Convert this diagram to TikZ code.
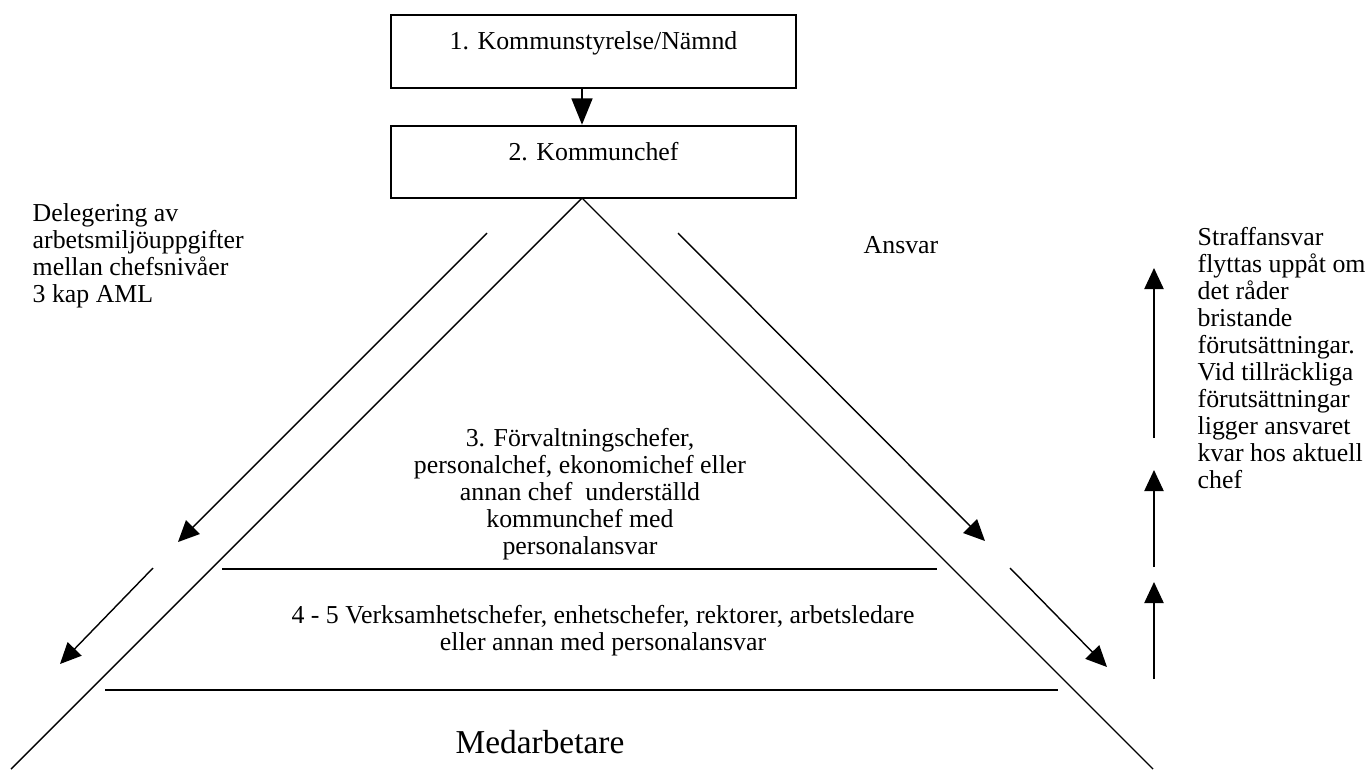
\documentclass[tikz,border=0pt]{standalone}
\usepackage{fontspec}
\setmainfont{Liberation Serif}
\usetikzlibrary{arrows.meta}

\begin{document}
\begin{tikzpicture}[x=0.02cm,y=-0.02cm,>={Triangle[length=12pt,width=11pt]},line width=0.8pt,
  font=\fontsize{14.7pt}{15.4pt}\selectfont,
  box/.style={draw,line width=1.2pt,minimum width=8.1cm,minimum height=1.45cm,inner sep=0pt,
    text height=10.5pt,text depth=12.5pt},
  txt/.style={inner sep=0pt,align=center}]
\useasboundingbox (0,0) rectangle (1370,769);
\coordinate (top) at (582,198);
\coordinate (bl) at (11,769);
\coordinate (br) at (1153,769);
\node[box] (kst) at (593.5,51.5) {1. Kommunstyrelse/Nämnd};
\node[box] (kc) at (593.5,162) {2. Kommunchef};
\draw[->,>={Triangle[length=15pt,width=12pt]}] (kst.south -| top) -- (kc.north -| top);
\draw (bl) -- (top) -- (br);
\draw (222,569) -- (937,569);
\draw (105,690) -- (1058,690);
\draw[->] (487,233) -- (178,542);
\draw[->] (153,568) -- (60,664);
\draw[->] (678,233) -- (985,541);
\draw[->] (1010,568) -- (1107,667);
\draw[->] (1154,438) -- (1154,268);
\draw[->] (1154,567) -- (1154,470);
\draw[->] (1154,679) -- (1154,582);
\node[txt,anchor=west,align=left] (deleg) at (32,256) {Delegering av\\arbetsmiljöuppgifter\\mellan chefsnivåer\\3 kap AML};
\node[txt] (ansvar) at (901,245) {Ansvar};
\node[txt,anchor=west,align=left] (straff) at (1197,358) {Straffansvar\\flyttas uppåt om\\det råder\\bristande\\förutsättningar.\\Vid tillräckliga\\förutsättningar\\ligger ansvaret\\kvar hos aktuell\\chef};
\node[txt] (niva3) at (580,494) {3. Förvaltningschefer,\\personalchef, ekonomichef eller\\annan chef\ \ underställd\\kommunchef med\\personalansvar};
\node[txt] (niva45) at (603,631) {4 - 5 Verksamhetschefer, enhetschefer, rektorer, arbetsledare\\eller annan med personalansvar};
\node[txt,font=\fontsize{19pt}{21pt}\selectfont] (medarb) at (540,742) {Medarbetare};
\end{tikzpicture}
\end{document}
